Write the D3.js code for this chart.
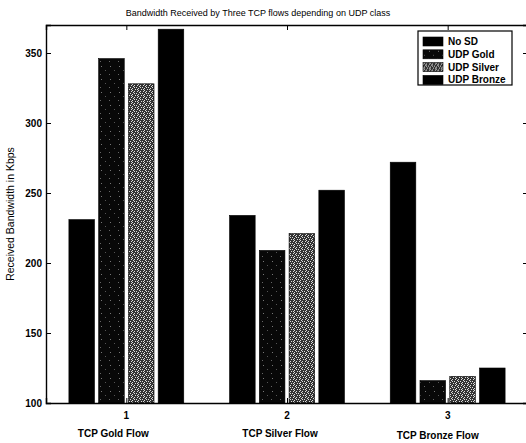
<!DOCTYPE html>
<html>
<head>
<meta charset="utf-8">
<script src="https://cdn.jsdelivr.net/npm/d3@7"></script>
<style>
  body { margin: 0; background: #fff; }
  text { font-family: "Liberation Sans", Arial, sans-serif; fill: #000; }
</style>
</head>
<body>
<div class="chart-section"></div>
<script>
// data
var flows = [1, 2, 3];
var flowLabels = ["TCP Gold Flow", "TCP Silver Flow", "TCP Bronze Flow"];
var seriesNames = ["No SD", "UDP Gold", "UDP Silver", "UDP Bronze"];
var noSD = [231, 234, 272];
var udpGold = [346, 209, 116];
var udpSilver = [328, 221, 119];
var udpBronze = [367, 252, 125];
var yTicks = [100, 150, 200, 250, 300, 350];

var seriesValues = [noSD, udpGold, udpSilver, udpBronze];
var barData = [];
for (var i = 0; i < flows.length; i++){
  for (var s = 0; s < seriesNames.length; s++){
    barData.push({"flow": flows[i], "series": seriesNames[s], "value": seriesValues[s][i]});
  }
}

var svgWidth = 526;
var svgHeight = 443;
// note: "top" is taken by window.top, so keep the box in an object
var plot = {left: 46, right: 528, top: 25, bottom: 403};

var svg = d3.select(".chart-section").append("svg")
  .attr("width", svgWidth)
  .attr("height", svgHeight)
  .style("display", "block");

// fill patterns, the scan shows speckled greys
var defs = svg.append("defs");
var goldPat = defs.append("pattern")
  .attr("id", "pat-gold")
  .attr("patternUnits", "userSpaceOnUse")
  .attr("width", 9).attr("height", 13);
goldPat.append("rect").attr("width", 9).attr("height", 13).attr("fill", "#080808");
[[2, 1, "#777"], [6, 5, "#555"], [1, 9, "#666"]].forEach(function(p){
  goldPat.append("rect").attr("x", p[0]).attr("y", p[1])
    .attr("width", 1).attr("height", 1).attr("fill", p[2]);
});

var silverPat = defs.append("pattern")
  .attr("id", "pat-silver")
  .attr("patternUnits", "userSpaceOnUse")
  .attr("width", 6).attr("height", 6);
silverPat.append("rect").attr("width", 6).attr("height", 6).attr("fill", "#333");
[[0, 0], [2, 1], [5, 1], [1, 2], [4, 3], [0, 4], [3, 5], [2, 3], [5, 5]].forEach(function(p){
  silverPat.append("rect").attr("x", p[0]).attr("y", p[1])
    .attr("width", 1).attr("height", 1).attr("fill", "#ddd");
});

var fills = {"No SD": "#000", "UDP Gold": "url(#pat-gold)",
             "UDP Silver": "url(#pat-silver)", "UDP Bronze": "#000"};

var x = d3.scaleLinear().domain([0.5, 3.5]).range([plot.left, plot.right]);
var y = d3.scaleLinear().domain([100, 370]).range([plot.bottom, plot.top]);
var groupWidth = (x(1.5) - x(0.5)) * 0.715;
var xInner = d3.scaleBand()
  .domain(seriesNames)
  .range([-groupWidth / 2, groupWidth / 2])
  .paddingInner(0.14);

// bars
svg.append("g").selectAll("rect")
  .data(barData)
  .enter()
  .append("rect")
    .attr("x", function(d){ return x(d.flow) + xInner(d.series); })
    .attr("y", function(d){ return y(d.value); })
    .attr("width", xInner.bandwidth())
    .attr("height", function(d){ return y(100) - y(d.value); })
    .attr("fill", function(d){ return fills[d.series]; })
    .attr("stroke", "#000")
    .attr("stroke-width", 0.6);

// axes box, ticks inside like matlab
var tickLen = 5;
var yLeft = d3.axisRight(y).tickValues(yTicks).tickSize(tickLen).tickFormat("");
var yRight = d3.axisLeft(y).tickValues(yTicks).tickSize(tickLen).tickFormat("");
var xBottom = d3.axisTop(x).tickValues(flows).tickSize(tickLen).tickFormat("");
var xTop = d3.axisBottom(x).tickValues(flows).tickSize(tickLen).tickFormat("");

svg.append("g").attr("transform", "translate(" + plot.left + ",0)").call(yLeft);
svg.append("g").attr("transform", "translate(" + plot.right + ",0)").call(yRight);
svg.append("g").attr("transform", "translate(0," + plot.bottom + ")").call(xBottom);
svg.append("g").attr("transform", "translate(0," + plot.top + ")").call(xTop);
svg.selectAll(".domain").attr("stroke", "#000").attr("stroke-width", 1.4);
svg.selectAll(".tick line").attr("stroke", "#000");

// tick labels
svg.append("g").selectAll("text")
  .data(yTicks)
  .enter()
  .append("text")
    .attr("x", plot.left - 4)
    .attr("y", function(d){ return y(d); })
    .attr("dy", "0.35em")
    .attr("text-anchor", "end")
    .style("font-size", "10px")
    .style("font-weight", "bold")
    .text(function(d){ return d; });

svg.append("g").selectAll("text")
  .data(flows)
  .enter()
  .append("text")
    .attr("x", function(d){ return x(d); })
    .attr("y", 419)
    .attr("text-anchor", "middle")
    .style("font-size", "10px")
    .style("font-weight", "bold")
    .text(function(d){ return d; });

// flow names sit a little left of their ticks in the original
var nameShift = [-13, -7, -10];
svg.append("g").selectAll("text")
  .data(flowLabels)
  .enter()
  .append("text")
    .attr("x", function(d, i){ return x(flows[i]) + nameShift[i]; })
    .attr("y", function(d, i){ return i === 2 ? 439 : 437; })
    .attr("text-anchor", "middle")
    .style("font-size", "10px")
    .style("font-weight", "bold")
    .text(function(d){ return d; });

// title and y label
svg.append("text")
  .attr("x", 258)
  .attr("y", 16)
  .attr("text-anchor", "middle")
  .style("font-size", "9px")
  .text("Bandwidth Received by Three TCP flows depending on UDP class");

svg.append("text")
  .attr("transform", "translate(14," + ((plot.top + plot.bottom) / 2) + ") rotate(-90)")
  .attr("text-anchor", "middle")
  .style("font-size", "10.5px")
  .text("Received Bandwidth in Kbps");

// legend
var legend = svg.append("g").attr("transform", "translate(418,31)");
legend.append("rect")
  .attr("width", 94)
  .attr("height", 54)
  .attr("fill", "#fff")
  .attr("stroke", "#000")
  .attr("stroke-width", 1.2);
var item = legend.selectAll(".legend-item")
  .data(seriesNames)
  .enter()
  .append("g")
  .attr("class", "legend-item")
  .attr("transform", function(d, i){ return "translate(0," + (6 + i * 12.8) + ")"; });
item.append("rect")
  .attr("x", 5)
  .attr("width", 20)
  .attr("height", 9)
  .attr("fill", function(d){ return fills[d]; })
  .attr("stroke", "#000")
  .attr("stroke-width", 0.6);
item.append("text")
  .attr("x", 30)
  .attr("y", 4.5)
  .attr("dy", "0.35em")
  .style("font-size", "10px")
  .style("font-weight", "bold")
  .text(function(d){ return d; });
</script>
</body>
</html>
